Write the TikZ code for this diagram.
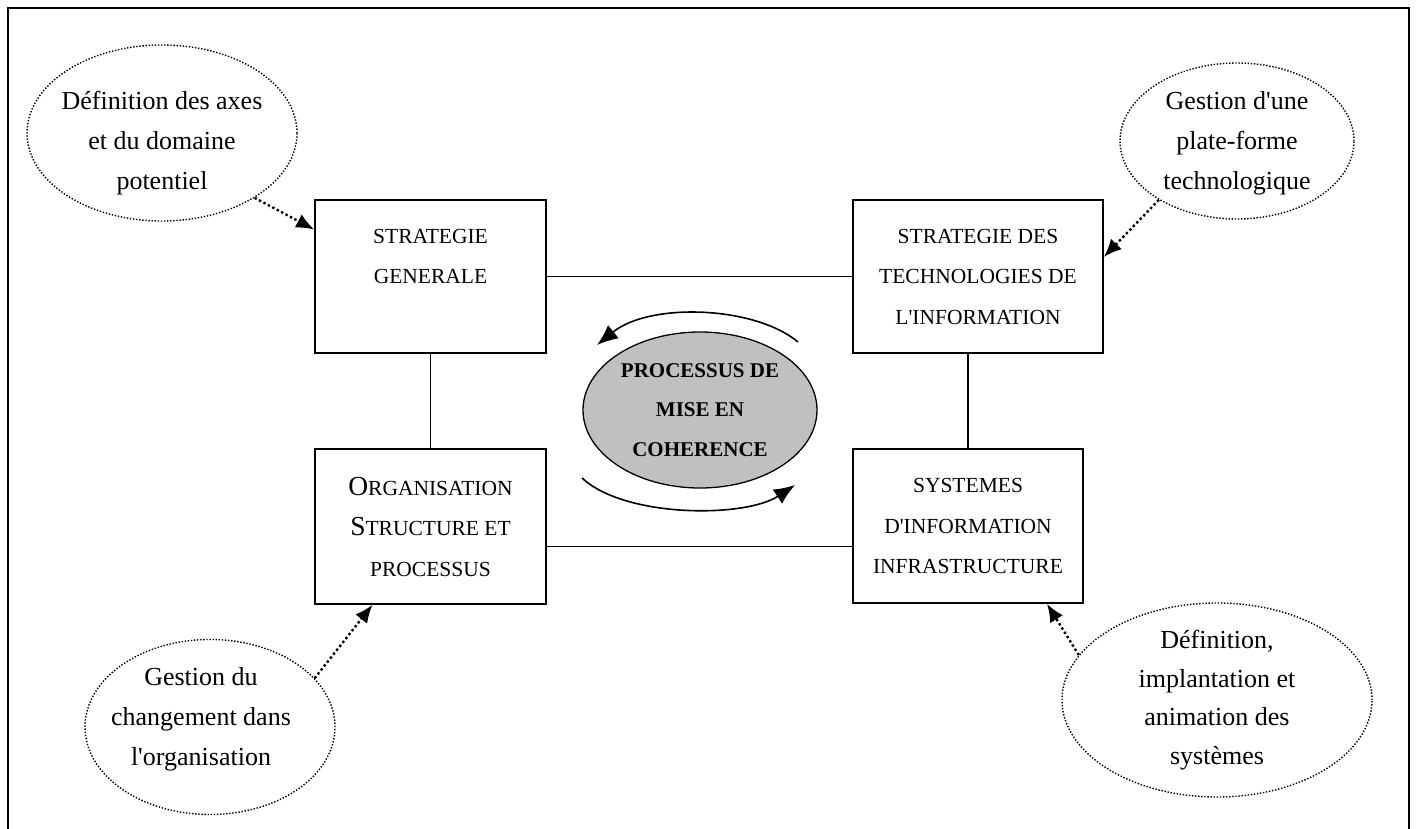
\documentclass[tikz,border=0pt]{standalone}
\usepackage{fontspec}
\setmainfont{Liberation Serif}[Ligatures=TeXOff]
\usetikzlibrary{shapes.geometric,arrows.meta,calc}
\definecolor{procgray}{HTML}{C0C0C0}
\begin{document}
\begin{tikzpicture}[x=1pt,y=-1pt,
  box/.style={draw,line width=1.6pt,inner sep=0pt,align=center,font=\fontsize{21.5}{40.5}\selectfont},
  cloud/.style={draw,ellipse,line width=1.4pt,dash pattern=on 1.4pt off 1.7pt,inner sep=0pt},
  ctext/.style={align=center,font=\fontsize{26}{40}\selectfont,inner sep=0pt},
  link/.style={line width=1.3pt},
  dotarrow/.style={line width=2.4pt,dash pattern=on 2.4pt off 2.6pt,-{Latex[length=18pt,width=15pt]}},
  cyc/.style={line width=1.6pt,-{Latex[length=21pt,width=17pt]}},
  frame/.style={line width=1.6pt}
]
\useasboundingbox (0,0) rectangle (1416,829);
\draw[frame] (8,829) -- (8,8) -- (1409,8) -- (1409,829);

% boxes
\node[box,minimum width=231pt,minimum height=153pt] (sg) at (430.5,276.5) {STRATEGIE\\GENERALE\\\mbox{}};
\node[box,minimum width=250pt,minimum height=153pt] (sd) at (978,276.5) {STRATEGIE DES\\TECHNOLOGIES DE\\L'INFORMATION};
\node[box,minimum width=231pt,minimum height=155pt] (org) at (430.5,526.5)
  {{\fontsize{27.5}{40.5}\selectfont O}RGANISATION\\{\fontsize{27.5}{40.5}\selectfont S}TRUCTURE ET\\PROCESSUS};
\node[box,minimum width=230pt,minimum height=154pt] (sys) at (968,526) {SYSTEMES\\D'INFORMATION\\INFRASTRUCTURE};

% links
\draw[link] (sg.east) -- (sd.west);
\draw[link] (sg.south) -- (org.north);
\draw[link] (sys.north) -- (sys.north |- sd.south);
\draw[link] ([yshift=-20pt]org.east) -- ([yshift=-20pt]org.east -| sys.west);

% central process
\node[ellipse,draw,fill=procgray,line width=1.3pt,minimum width=234pt,minimum height=156pt,inner sep=0pt,align=center,
  font=\bfseries\fontsize{21}{39.5}\selectfont] (pc) at (700,410) {PROCESSUS DE\\MISE EN\\COHERENCE};
\coordinate (c1) at (798,342);
\coordinate (c2) at (597,345);
\coordinate (c3) at (582,478);
\coordinate (c4) at (795,485);
\draw[cyc] (c1) .. controls (755,306) and (650,302) .. (c2);
\draw[cyc] (c3) .. controls (625,518) and (745,518) .. (c4);

% clouds
\node[cloud,minimum width=270pt,minimum height=176pt] (e1) at (162,133) {};
\node[ctext] (t1) at (162,143) {Définition des axes\\et du domaine\\potentiel};
\node[cloud,minimum width=234pt,minimum height=156pt] (e2) at (1237,141) {};
\node[ctext] (t2) at (1237,143) {Gestion d'une\\plate-forme\\technologique};
\node[cloud,minimum width=250pt,minimum height=175pt] (e3) at (210,727) {};
\node[ctext] (t3) at (201,719) {Gestion du\\changement dans\\l'organisation};
\node[cloud,minimum width=310pt,minimum height=194pt] (e4) at (1217,700) {};
\node[ctext,font=\fontsize{26}{38.5}\selectfont] (t4) at (1217,700) {Définition,\\implantation et\\animation des\\systèmes};

% dotted arrows
\draw[dotarrow] (e1.-35) -- ([yshift=47pt]sg.west);
\draw[dotarrow] (e2.-143) -- ([yshift=19.5pt]sd.east);
\draw[dotarrow] (e3.25) -- ([xshift=-58pt]org.south);
\draw[dotarrow] (e4.162) -- ([xshift=79pt]sys.south);
\end{tikzpicture}
\end{document}
